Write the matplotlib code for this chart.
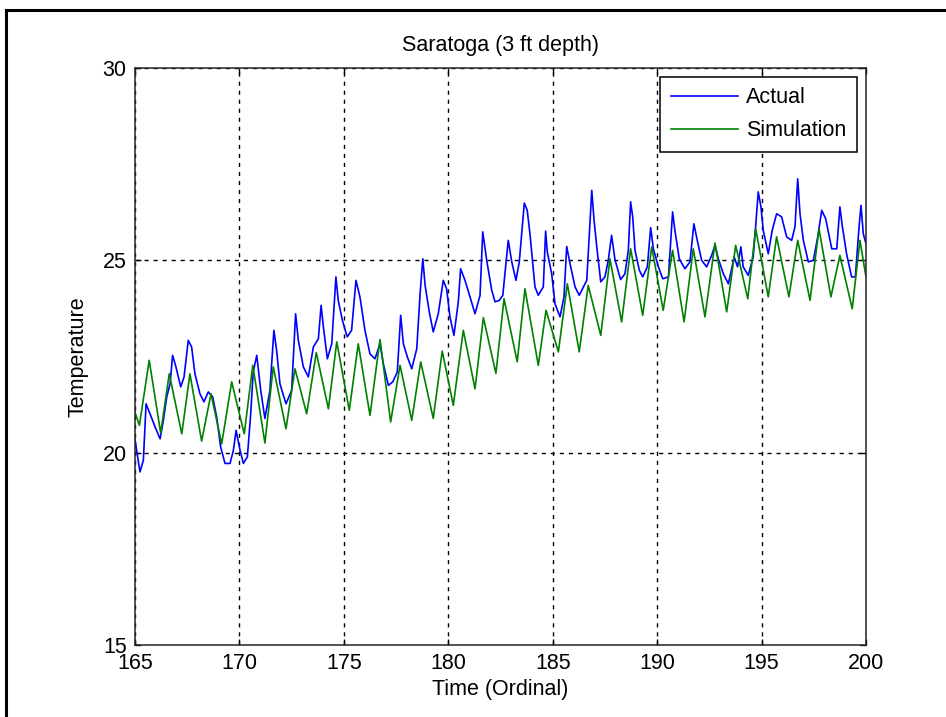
import numpy as np
import matplotlib
matplotlib.use('Agg')
import matplotlib.pyplot as plt
from matplotlib.lines import Line2D

plt.rcParams['font.family'] = ['Liberation Sans', 'DejaVu Sans']

# Saratoga soil temperature, 3 ft depth (day of year, deg)
actual_t = [165.00, 165.10, 165.24, 165.40, 165.53, 165.72, 165.96, 166.20, 166.36, 166.52,
            166.68, 166.80, 166.96, 167.19, 167.35, 167.55, 167.71, 167.87, 168.11, 168.30,
            168.51, 168.72, 168.91, 169.10, 169.31, 169.55, 169.71, 169.84, 170.03, 170.19,
            170.38, 170.54, 170.66, 170.83, 171.02, 171.22, 171.46, 171.65, 171.78, 171.94,
            172.23, 172.50, 172.69, 172.82, 173.06, 173.30, 173.54, 173.78, 173.91, 174.02,
            174.21, 174.42, 174.62, 174.73, 174.93, 175.16, 175.37, 175.58, 175.77, 176.01,
            176.25, 176.49, 176.73, 176.89, 177.13, 177.34, 177.56, 177.72, 177.85, 178.04,
            178.25, 178.49, 178.65, 178.78, 178.89, 179.09, 179.28, 179.52, 179.76, 179.92,
            180.08, 180.27, 180.48, 180.59, 180.80, 181.04, 181.28, 181.52, 181.65, 181.84,
            182.08, 182.24, 182.44, 182.61, 182.87, 183.04, 183.24, 183.40, 183.64, 183.78,
            183.91, 184.15, 184.31, 184.55, 184.66, 184.74, 184.95, 185.11, 185.35, 185.54,
            185.67, 185.83, 186.07, 186.27, 186.63, 186.87, 186.98, 187.11, 187.30, 187.50,
            187.66, 187.82, 187.98, 188.25, 188.46, 188.62, 188.73, 188.83, 188.94, 189.15,
            189.31, 189.53, 189.69, 189.82, 190.06, 190.27, 190.54, 190.74, 190.85, 191.06,
            191.33, 191.57, 191.76, 191.92, 192.13, 192.37, 192.61, 192.77, 192.93, 193.17,
            193.41, 193.69, 193.85, 194.01, 194.12, 194.36, 194.60, 194.72, 194.84, 194.97,
            195.08, 195.32, 195.51, 195.72, 195.96, 196.20, 196.44, 196.60, 196.73, 196.84,
            197.00, 197.24, 197.48, 197.69, 197.88, 198.07, 198.36, 198.60, 198.75, 198.86,
            199.07, 199.31, 199.49, 199.66, 199.76, 199.87, 200.00]
actual_temp = [20.35, 19.98, 19.50, 19.80, 21.27, 21.01, 20.67, 20.36, 20.84, 21.45,
               21.79, 22.53, 22.23, 21.71, 21.97, 22.92, 22.75, 22.05, 21.53, 21.32,
               21.58, 21.45, 20.93, 20.15, 19.72, 19.72, 20.06, 20.58, 20.06, 19.72,
               19.89, 21.01, 22.10, 22.53, 21.62, 20.89, 21.62, 23.18, 22.66, 21.79,
               21.27, 21.62, 23.61, 22.92, 22.23, 21.97, 22.75, 22.96, 23.83, 23.27,
               22.44, 22.83, 24.57, 23.96, 23.44, 23.01, 23.18, 24.48, 24.05, 23.18,
               22.57, 22.44, 22.83, 22.31, 21.75, 21.84, 22.10, 23.57, 22.83, 22.49,
               22.18, 22.70, 24.13, 25.04, 24.35, 23.66, 23.14, 23.61, 24.48, 24.26,
               23.53, 23.05, 23.92, 24.78, 24.48, 24.05, 23.61, 24.09, 25.74, 25.00,
               24.22, 23.92, 23.96, 24.09, 25.52, 24.96, 24.48, 24.96, 26.49, 26.30,
               25.69, 24.31, 24.09, 24.31, 25.76, 25.22, 24.65, 23.87, 23.53, 24.05,
               25.36, 24.91, 24.31, 24.09, 24.48, 26.82, 26.04, 25.35, 24.44, 24.57,
               25.00, 25.65, 25.02, 24.50, 24.65, 25.26, 26.52, 26.13, 25.26, 24.74,
               24.57, 24.83, 25.85, 25.30, 24.83, 24.52, 24.57, 26.26, 25.78, 25.04,
               24.78, 24.96, 25.95, 25.52, 25.00, 24.83, 25.13, 25.39, 25.04, 24.65,
               24.39, 25.09, 24.83, 25.35, 24.83, 24.61, 25.09, 25.91, 26.78, 26.39,
               25.78, 25.17, 25.78, 26.21, 26.13, 25.61, 25.52, 25.87, 27.12, 26.21,
               25.52, 24.96, 25.00, 25.61, 26.30, 26.08, 25.30, 25.30, 26.39, 25.91,
               25.17, 24.57, 24.57, 25.82, 26.43, 25.69, 25.43]

sim_t = [165.00, 165.21, 165.68, 166.23, 166.64, 167.24, 167.63, 168.19, 168.64, 169.15,
         169.63, 170.23, 170.64, 171.22, 171.62, 172.23, 172.66, 173.22, 173.68, 174.26,
         174.66, 175.26, 175.69, 176.25, 176.73, 177.24, 177.69, 178.25, 178.68, 179.28,
         179.71, 180.24, 180.72, 181.28, 181.68, 182.28, 182.67, 183.30, 183.67, 184.31,
         184.68, 185.27, 185.70, 186.27, 186.70, 187.30, 187.74, 188.30, 188.73, 189.31,
         189.74, 190.29, 190.74, 191.29, 191.73, 192.29, 192.77, 193.33, 193.76, 194.34,
         194.72, 195.32, 195.72, 196.31, 196.73, 197.32, 197.75, 198.32, 198.75, 199.34,
         199.71, 200.00]
sim_temp = [21.05, 20.71, 22.40, 20.51, 22.05, 20.49, 22.05, 20.30, 21.53, 20.23,
            21.84, 20.49, 22.27, 20.25, 22.23, 20.62, 22.18, 21.01, 22.60, 21.14,
            22.88, 21.10, 22.83, 20.97, 22.94, 20.80, 22.27, 20.84, 22.36, 20.89,
            22.64, 21.23, 23.18, 21.66, 23.51, 22.06, 24.00, 22.36, 24.26, 22.27,
            23.70, 22.62, 24.39, 22.62, 24.35, 23.05, 25.04, 23.40, 25.30, 23.57,
            25.35, 23.70, 25.26, 23.40, 25.30, 23.53, 25.45, 23.66, 25.39, 24.00,
            25.82, 24.05, 25.61, 24.05, 25.52, 23.96, 25.82, 24.05, 25.13, 23.74,
            25.52, 24.57]

x_ticks = [165, 170, 175, 180, 185, 190, 195, 200]
y_ticks = [15, 20, 25, 30]

FS = 15.5

fig = plt.figure(figsize=(9.46, 7.17), dpi=100)
ax = fig.add_axes([135 / 946, 1 - 645 / 717, (866 - 135) / 946, (645 - 68) / 717])

ax.plot(actual_t, actual_temp, color='#0000ff', lw=1.2, label='Actual')
ax.plot(sim_t, sim_temp, color='#008000', lw=1.2, label='Simulation')

ax.set_xlim(165, 200)
ax.set_ylim(15, 30)
ax.set_xticks(x_ticks)
ax.set_yticks(y_ticks)
ax.tick_params(direction='in', length=4, width=1, top=True, right=True,
               labelsize=FS, pad=6)
ax.grid(True, color='black', linestyle=(0, (3, 3.5)), lw=1)
for s in ax.spines.values():
    s.set_color('#262626')
    s.set_linewidth(1.1)
    s.set_zorder(3)

ax.set_title('Saratoga (3 ft depth)', fontsize=FS, pad=12)
ax.set_xlabel('Time (Ordinal)', fontsize=FS, labelpad=3)
ax.set_ylabel('Temperature', fontsize=FS, labelpad=10)

leg = ax.legend(loc='upper right', fontsize=FS, fancybox=False, framealpha=1,
                edgecolor='black', borderaxespad=0.4, handlelength=3.1,
                handletextpad=0.4, labelspacing=0.55, borderpad=0.5)
leg.get_frame().set_linewidth(1.1)

# frame around the figure (top and left edges)
fig.add_artist(Line2D([6 / 946, 1.0], [1 - 10 / 717, 1 - 10 / 717],
                      transform=fig.transFigure, color='black', lw=2.2))
fig.add_artist(Line2D([6 / 946, 6 / 946], [0.0, 1 - 10 / 717],
                      transform=fig.transFigure, color='black', lw=2.2))

fig.savefig('out.png', dpi=100)
